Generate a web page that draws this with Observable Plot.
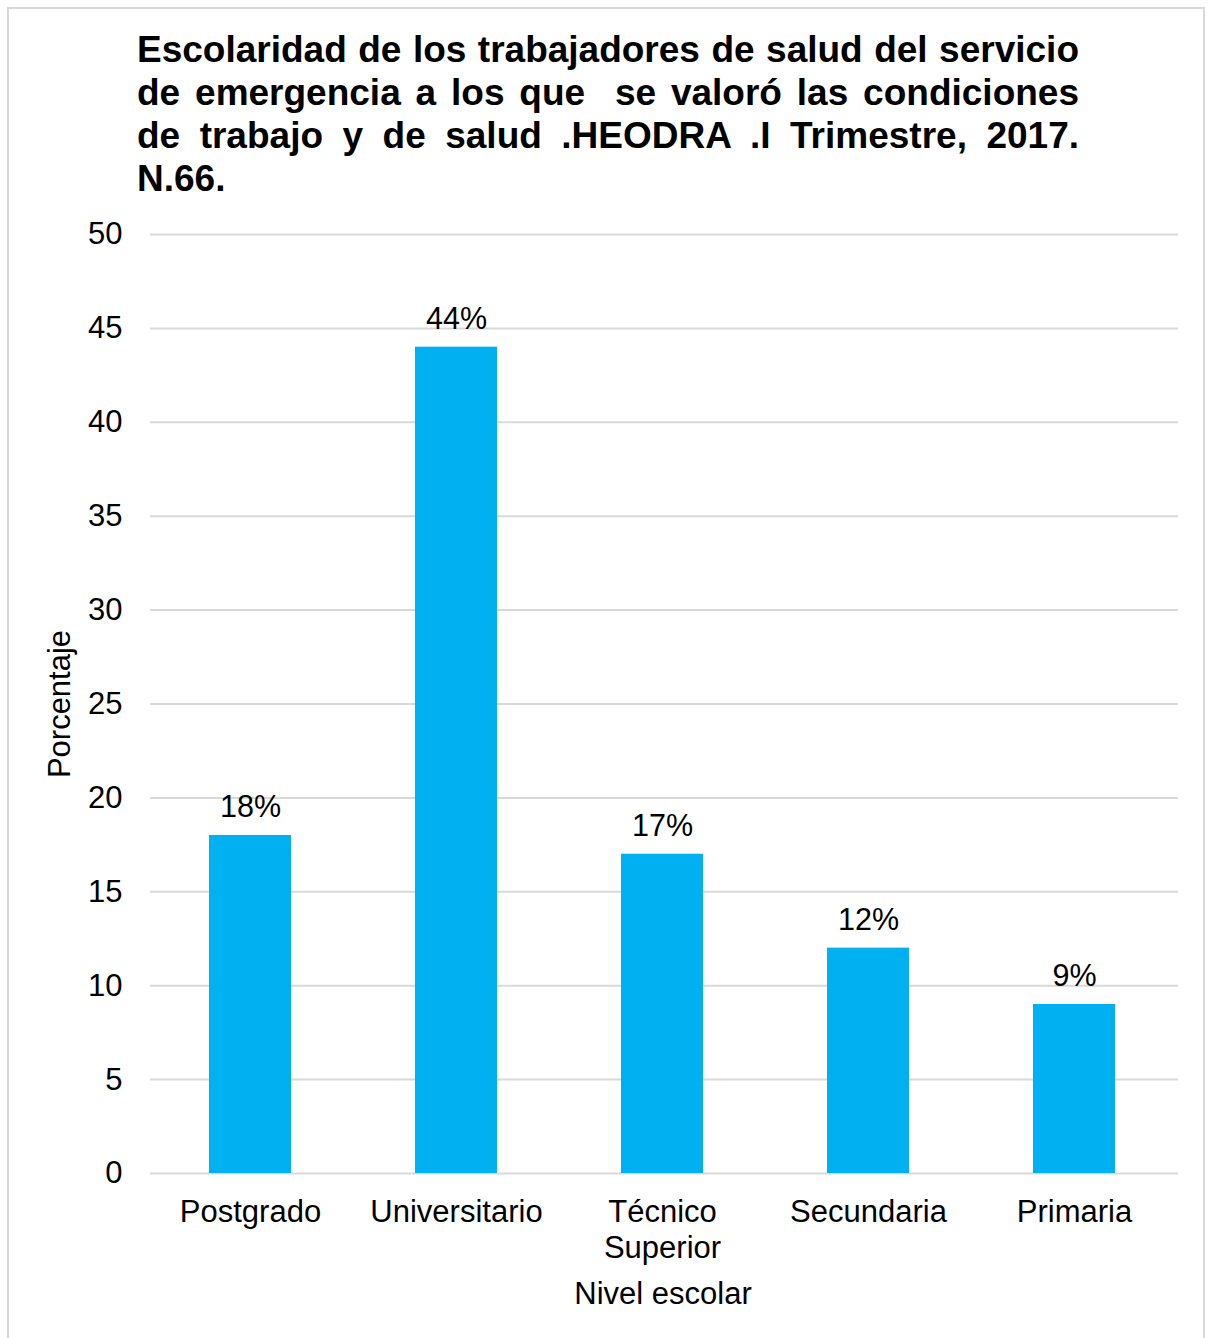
<!DOCTYPE html>
<html>
<head>
<meta charset="utf-8">
<script src="https://cdn.jsdelivr.net/npm/d3@7"></script>
<script src="https://cdn.jsdelivr.net/npm/@observablehq/plot@0.6"></script>
<style>
  html, body { margin: 0; padding: 0; background: #fff; }
  #wrap { position: relative; width: 1209px; height: 1338px; overflow: hidden; font-family: "Liberation Sans", Arial, sans-serif; color: #000; }
  #frame { position: absolute; left: 7px; top: 7px; width: 1198px; height: 1345px; border: 2px solid #d9d9d9; box-sizing: border-box; }
  #title { position: absolute; left: 137px; top: 28px; width: 942px; font-weight: bold; font-size: 37px; line-height: 43px; }
  #title div { white-space: nowrap; text-align: justify; text-align-last: justify; }
  #title div.last { text-align-last: left; }
  #chart { position: absolute; left: 0; top: 200px; }
</style>
</head>
<body>
<div id="wrap">
  <div id="frame"></div>
  <div id="title"></div>
  <div id="chart"></div>
</div>
<script>
const titleLines = [
  "Escolaridad de los trabajadores de salud del servicio",
  "de emergencia a los que \u00a0se valoró las condiciones",
  "de trabajo y de salud .HEODRA .I Trimestre, 2017.",
  "N.66."
];
const categories = ["Postgrado", "Universitario", "Técnico\nSuperior", "Secundaria", "Primaria"];
const values = [18, 44, 17, 12, 9];
const valueLabels = ["18%", "44%", "17%", "12%", "9%"];
const yTicks = [0, 5, 10, 15, 20, 25, 30, 35, 40, 45, 50];
const yLabel = "Porcentaje";
const xLabel = "Nivel escolar";

const titleEl = document.getElementById("title");
titleLines.forEach((t, i) => {
  const d = document.createElement("div");
  d.textContent = t;
  if (i === titleLines.length - 1) d.className = "last";
  titleEl.appendChild(d);
});

const data = categories.map((c, i) => ({cat: c, value: values[i], label: valueLabels[i]}));

const plot = Plot.plot({
  width: 1209,
  height: 1138,
  marginTop: 34,
  marginBottom: 165,
  marginLeft: 147,
  marginRight: 31,
  style: {fontFamily: "'Liberation Sans', Arial, sans-serif", color: "#000", background: "transparent"},
  x: {domain: categories, paddingInner: 0.6, paddingOuter: 0.3, label: null},
  y: {domain: [0, 50], ticks: yTicks, label: null},
  marks: [
    Plot.ruleY(yTicks, {stroke: "#d9d9d9", strokeWidth: 2, insetLeft: 3}),
    Plot.barY(data, {x: "cat", y: "value", fill: "#00B0F0"}),
    Plot.text(data, {x: "cat", y: "value", text: "label", fontSize: 30.5, lineAnchor: "bottom", dy: -18, fill: "#000"}),
    Plot.axisY({ticks: yTicks, tickSize: 0, tickPadding: 25, fontSize: 31, label: null, fill: "#000"}),
    Plot.axisX({tickSize: 0, tickPadding: 23, fontSize: 31, lineHeight: 1.16, label: null, fill: "#000"}),
    Plot.text([yLabel], {frameAnchor: "left", textAnchor: "middle", text: d => d, rotate: -90, dx: -87, fontSize: 31, fill: "#000"}),
    Plot.text([xLabel], {frameAnchor: "bottom", text: d => d, lineAnchor: "bottom", dy: 130, fontSize: 31, fill: "#000"})
  ]
});
document.getElementById("chart").appendChild(plot);
</script>
</body>
</html>
